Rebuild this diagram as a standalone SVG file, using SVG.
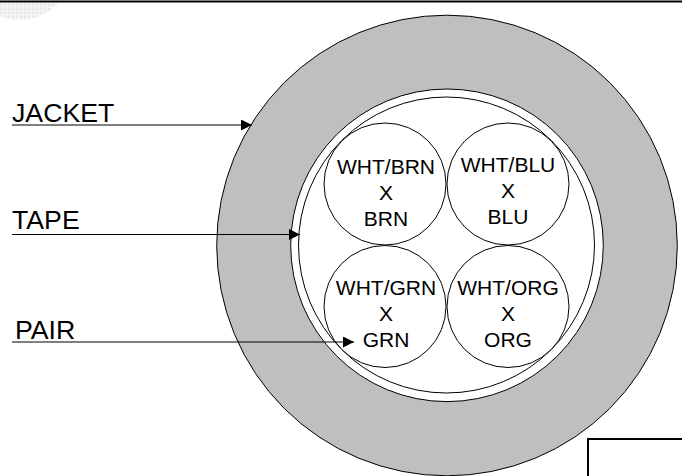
<svg xmlns="http://www.w3.org/2000/svg" width="682" height="476" viewBox="0 0 682 476">
<style>
.c{fill:#fff;stroke:#000;stroke-width:1}
.t{font-family:"Liberation Sans",Arial,sans-serif;font-size:21px;fill:#000;text-anchor:middle}
.l{font-family:"Liberation Sans",Arial,sans-serif;font-size:26.700px;fill:#000}
.a{stroke:#000;stroke-width:1;fill:none;marker-end:url(#arrow)}
</style>
<defs>
<marker id="arrow" markerUnits="userSpaceOnUse" markerWidth="11" markerHeight="11" refX="11" refY="5.500" orient="auto"><path d="M0,0L11,5.500L0,11Z" fill="#000"/></marker>
<pattern id="dots" width="4" height="4" patternUnits="userSpaceOnUse"><rect width="4" height="4" fill="#f4f4f4"/><rect width="2" height="2" fill="#e6e6e6"/></pattern>
</defs>
<rect width="682" height="476" fill="#fff"/>
<circle id="logo" cx="20" cy="-32" r="52" fill="url(#dots)"/>
<path id="topline" d="M0,1.500H682" stroke="#000" stroke-width="2" fill="none"/>
<g id="jacket"><circle cx="447" cy="245.500" r="230.300" fill="#bfbfbf" stroke="#000" stroke-width="1"/></g>
<g id="tape"><circle class="c" cx="447" cy="245.300" r="156.300"/><circle class="c" cx="446.500" cy="245" r="148"/></g>
<g id="pair-brn"><circle class="c" cx="385" cy="184" r="61"/><text class="t" x="386" y="173.500">WHT/BRN</text><text class="t" x="386" y="199.500">X</text><text class="t" x="386" y="225.500">BRN</text></g>
<g id="pair-blu"><circle class="c" cx="508" cy="184" r="61"/><text class="t" x="508" y="172">WHT/BLU</text><text class="t" x="508" y="198">X</text><text class="t" x="508" y="224">BLU</text></g>
<g id="pair-grn"><circle class="c" cx="385" cy="306.500" r="61"/><text class="t" x="386" y="295">WHT/GRN</text><text class="t" x="386" y="321">X</text><text class="t" x="386" y="346.500">GRN</text></g>
<g id="pair-org"><circle class="c" cx="508" cy="306.500" r="61"/><text class="t" x="508" y="295">WHT/ORG</text><text class="t" x="508" y="321">X</text><text class="t" x="508" y="346.500">ORG</text></g>
<g id="connectors">
<path class="a" d="M12,125H252"/>
<path class="a" d="M12,234.500H300"/>
<path class="a" d="M12,342H354"/>
</g>
<g id="labels">
<text class="l" x="12" y="121.500">JACKET</text>
<text class="l" x="12" y="228.500">TAPE</text>
<text class="l" x="15" y="338.500">PAIR</text>
</g>
<path id="box" d="M682,439H588V476" fill="none" stroke="#000" stroke-width="2"/>
</svg>
